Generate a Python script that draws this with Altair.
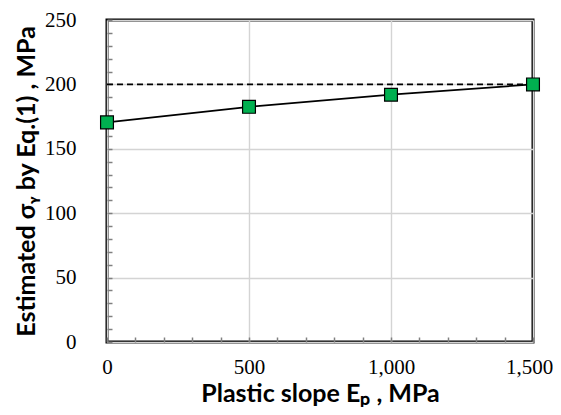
import altair as alt
import pandas as pd

ep = [0, 500, 1000, 1500]
sigma_y = [170.5, 182.6, 192.0, 200.0]
ref_x = [0, 1500]
ref_y = [200, 200]
x_major = [0, 500, 1000, 1500]
y_major = [0, 50, 100, 150, 200, 250]
x_minor = list(range(0, 1501, 100))
y_minor = list(range(0, 251, 10))

df = pd.DataFrame({"Ep": ep, "sy": sigma_y})
ref = pd.DataFrame({"Ep": ref_x, "sy": ref_y})

W, H = 426, 322
xs = alt.Scale(domain=[0, 1500], nice=False)
ys = alt.Scale(domain=[0, 250], nice=False)

label_font = "Liberation Serif"
title_font = "Lato"

x_main = alt.X(
    "Ep:Q", scale=xs,
    axis=alt.Axis(
        orient="bottom",
        values=x_major,
        format=",.0f",
        title="Plastic slope Eₚ , MPa",
        titleFont=title_font, titleFontSize=25, titleFontWeight="bold", titleColor="black",
        titlePadding=4,
        labelFont=label_font, labelFontSize=21, labelColor="black", labelPadding=14,
        labelOffset={"condition": {"test": "datum.value === 1500", "value": -4}, "value": 0},
        ticks=False, domain=False,
        grid=True, gridColor="#d4d4d4", gridWidth=1.4,
        labelOverlap=False, labelFlush=False,
    ),
)
y_main = alt.Y(
    "sy:Q", scale=ys,
    axis=alt.Axis(
        orient="left",
        values=y_major,
        title="Estimated σᵧ by Eq.(1) , MPa",
        titleFont=title_font, titleFontSize=25, titleFontWeight="bold", titleColor="black",
        titlePadding=5,
        labelFont=label_font, labelFontSize=21, labelColor="black", labelPadding=31,
        ticks=False, domain=False,
        grid=True, gridColor="#d4d4d4", gridWidth=1.4,
        labelOverlap=False, labelFlush=False,
    ),
)

base = alt.Chart(df)

line = base.mark_line(color="black", strokeWidth=1.8).encode(x=x_main, y=y_main)

# inward minor ticks via secondary axes on opposite sides, offset onto the frame
ticks_layer = base.mark_point(opacity=0).encode(
    x=alt.X("Ep:Q", scale=xs, axis=alt.Axis(
        orient="top", offset=-H, values=x_minor,
        labels=False, title=None, domain=False, grid=False,
        ticks=True, tickSize=5, tickColor="#808080", tickWidth=1.5)),
    y=alt.Y("sy:Q", scale=ys, axis=alt.Axis(
        orient="right", offset=-W, values=y_minor,
        labels=False, title=None, domain=False, grid=False,
        ticks=True, tickSize=5, tickColor="#808080", tickWidth=1.5)),
)

dash = alt.Chart(ref).mark_line(color="black", strokeWidth=1.8, strokeDash=[6, 4]).encode(
    x=alt.X("Ep:Q", scale=xs, axis=None), y=alt.Y("sy:Q", scale=ys, axis=None)
)

pts = base.mark_square(size=165, color="#00b050", opacity=1, stroke="black", strokeWidth=1.2, filled=True).encode(
    x=alt.X("Ep:Q", scale=xs, axis=None), y=alt.Y("sy:Q", scale=ys, axis=None)
)

chart = alt.layer(line, ticks_layer, dash, pts).resolve_scale(
    x="independent", y="independent"
).properties(
    width=W, height=H,
    autosize=alt.AutoSizeParams(type="none"),
    padding={"left": 99, "top": 12, "right": 20, "bottom": 65},
).configure_view(
    stroke="black", strokeWidth=3
)

chart.save("out.html", embed_options={"renderer": "svg", "actions": False})
